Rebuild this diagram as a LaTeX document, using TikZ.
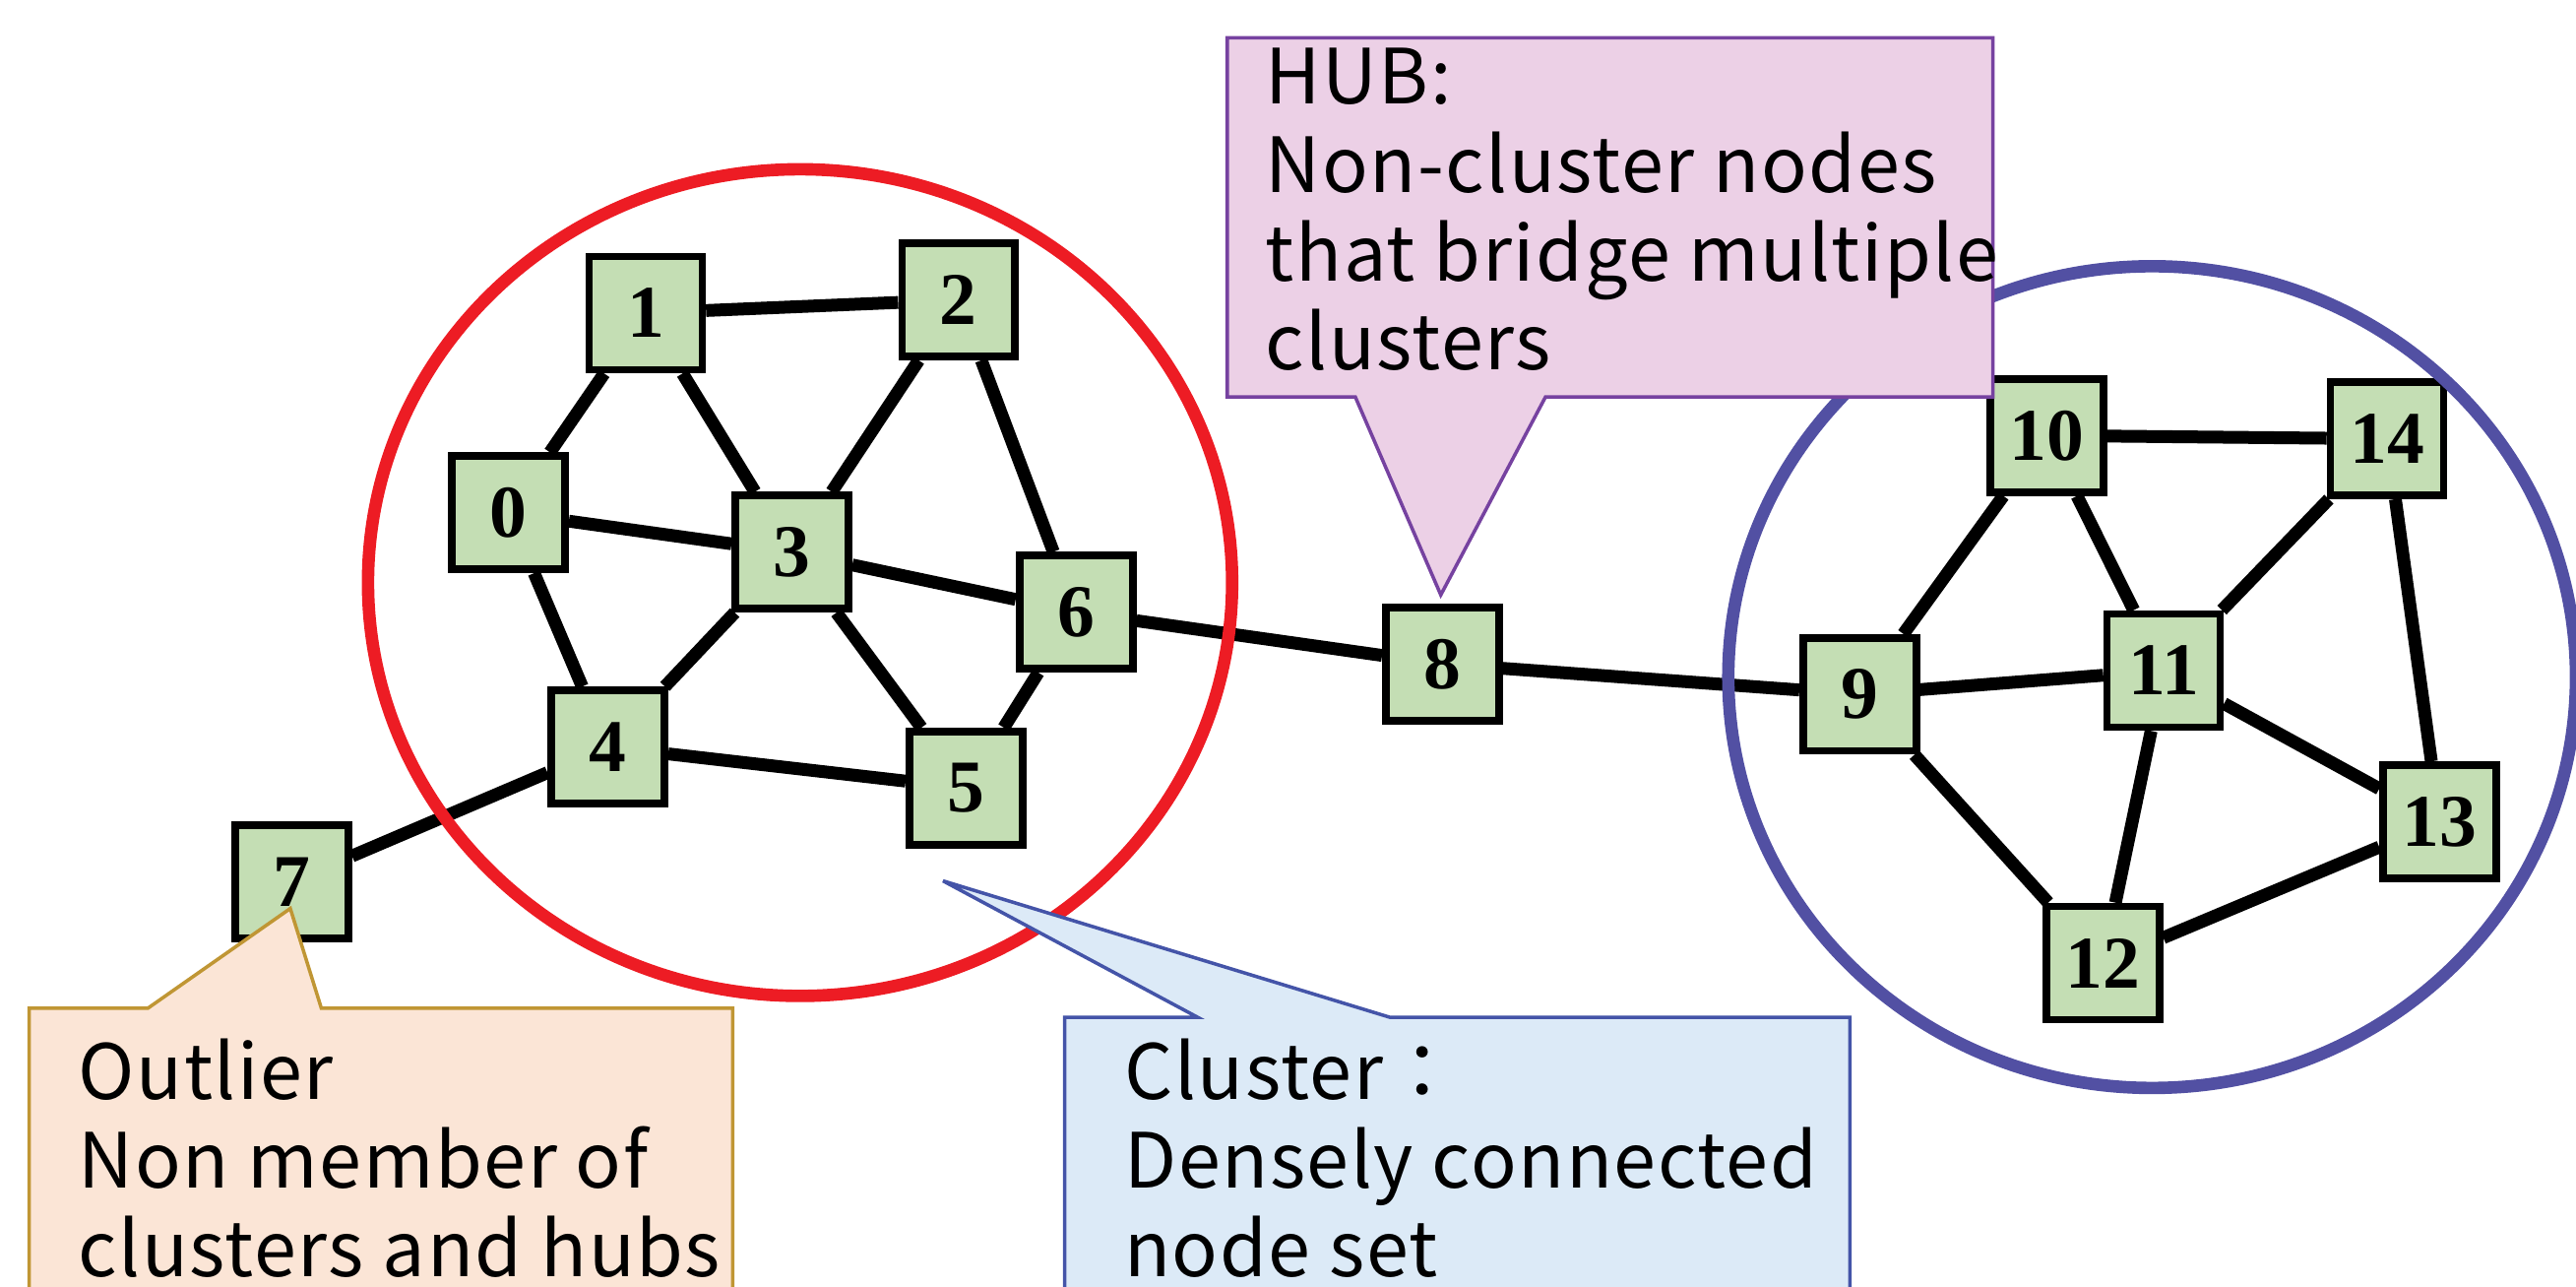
\documentclass[tikz,border=0pt]{standalone}
\usepackage{fontspec}
\newfontfamily\notefont[LetterSpace=2]{Noto Sans CJK JP}
\newfontfamily\numfont{Liberation Serif}

\definecolor{vertexgreen}{RGB}{196,222,180}
\definecolor{clusterred}{RGB}{237,28,36}
\definecolor{clusterblue}{RGB}{82,80,163}
\definecolor{hubfill}{RGB}{236,208,230}
\definecolor{hubline}{RGB}{118,66,160}
\definecolor{clusterfill}{RGB}{220,234,247}
\definecolor{clusterline}{RGB}{68,84,168}
\definecolor{outlierfill}{RGB}{251,229,214}
\definecolor{outlierline}{RGB}{192,150,52}

\begin{document}
\begin{tikzpicture}
    [x=0.01669cm, y=-0.01669cm,
    vertex/.style={
        draw=black, line width=2.2pt, fill=vertexgreen,
        minimum size=1.15cm, inner sep=0pt,
        font=\numfont\bfseries\fontsize{21.5}{21.5}\selectfont},
    link/.style={line width=3.7pt, black},
    cluster/.style={line width=3.6pt},
    note/.style={line width=1pt},
    notetext/.style={
        anchor=base west, align=left, inner sep=0pt,
        font=\notefont\fontsize{22}{25.6}\selectfont}
    ]
    \useasboundingbox (0,0) rectangle (1568,783);

    % left cluster
    \node[vertex] (n0) at (309.5,312) {0};
    \node[vertex] (n1) at (393,190.5) {1};
    \node[vertex] (n2) at (583.5,182.5) {2};
    \node[vertex] (n3) at (482,336) {3};
    \node[vertex] (n4) at (370,454.5) {4};
    \node[vertex] (n5) at (588,479.5) {5};
    \node[vertex] (n6) at (655,372.5) {6};
    % outlier and hub
    \node[vertex] (n7) at (177.5,536.5) {7};
    \node[vertex] (n8) at (878,404) {8};
    % right cluster
    \node[vertex] (n9) at (1132,422.5) {9};
    \node[vertex] (n10) at (1246,265) {10};
    \node[vertex] (n11) at (1317,408) {11};
    \node[vertex] (n12) at (1280,586) {12};
    \node[vertex] (n13) at (1485,500) {13};
    \node[vertex] (n14) at (1453,267) {14};

    \draw[link]
        (n0) -- (n1) (n1) -- (n2) (n1) -- (n3) (n0) -- (n3) (n0) -- (n4)
        (n2) -- (n3) (n2) -- (n6) (n3) -- (n6) (n3) -- (n4) (n3) -- (n5)
        (n4) -- (n5) (n5) -- (n6)
        (n4) -- (n7) (n6) -- (n8) (n8) -- (n9)
        (n9) -- (n10) (n9) -- (n11) (n9) -- (n12) (n10) -- (n11)
        (n10) -- (n14) (n11) -- (n14) (n11) -- (n13) (n14) -- (n13)
        (n11) -- (n12) (n12) -- (n13);

    \draw[cluster, draw=clusterred] (487,354.5) ellipse [x radius=263, y radius=251.5];
    \draw[cluster, draw=clusterblue] (1310,412) ellipse [x radius=258, y radius=250];

    % callouts (text nodes sit on the baseline of their last line)
    \filldraw[note, draw=hubline, fill=hubfill]
        (747,23) -- (1213,23) -- (1213,241.6) -- (940.7,241.6)
        -- (877,362) -- (825,241.6) -- (747,241.6) -- cycle;
    \node[notetext] (hubnote) at (770,225)
        {HUB:\\Non-cluster nodes\\that bridge multiple\\clusters};

    \filldraw[note, draw=outlierline, fill=outlierfill]
        (17.7,613.5) -- (90,613.5) -- (176.7,552.8) -- (195.6,613.5)
        -- (446,613.5) -- (446,800) -- (17.7,800) -- cycle;
    \node[notetext] (outliernote) at (47.4,777)
        {Outlier\\Non member of\\clusters and hubs};

    \filldraw[note, draw=clusterline, fill=clusterfill]
        (648,619) -- (729,619) -- (574,536) -- (846,619)
        -- (1126,619) -- (1126,800) -- (648,800) -- cycle;
    \node[notetext] (clusternote) at (684,777)
        {Cluster：\\Densely connected\\node set};
\end{tikzpicture}
\end{document}
